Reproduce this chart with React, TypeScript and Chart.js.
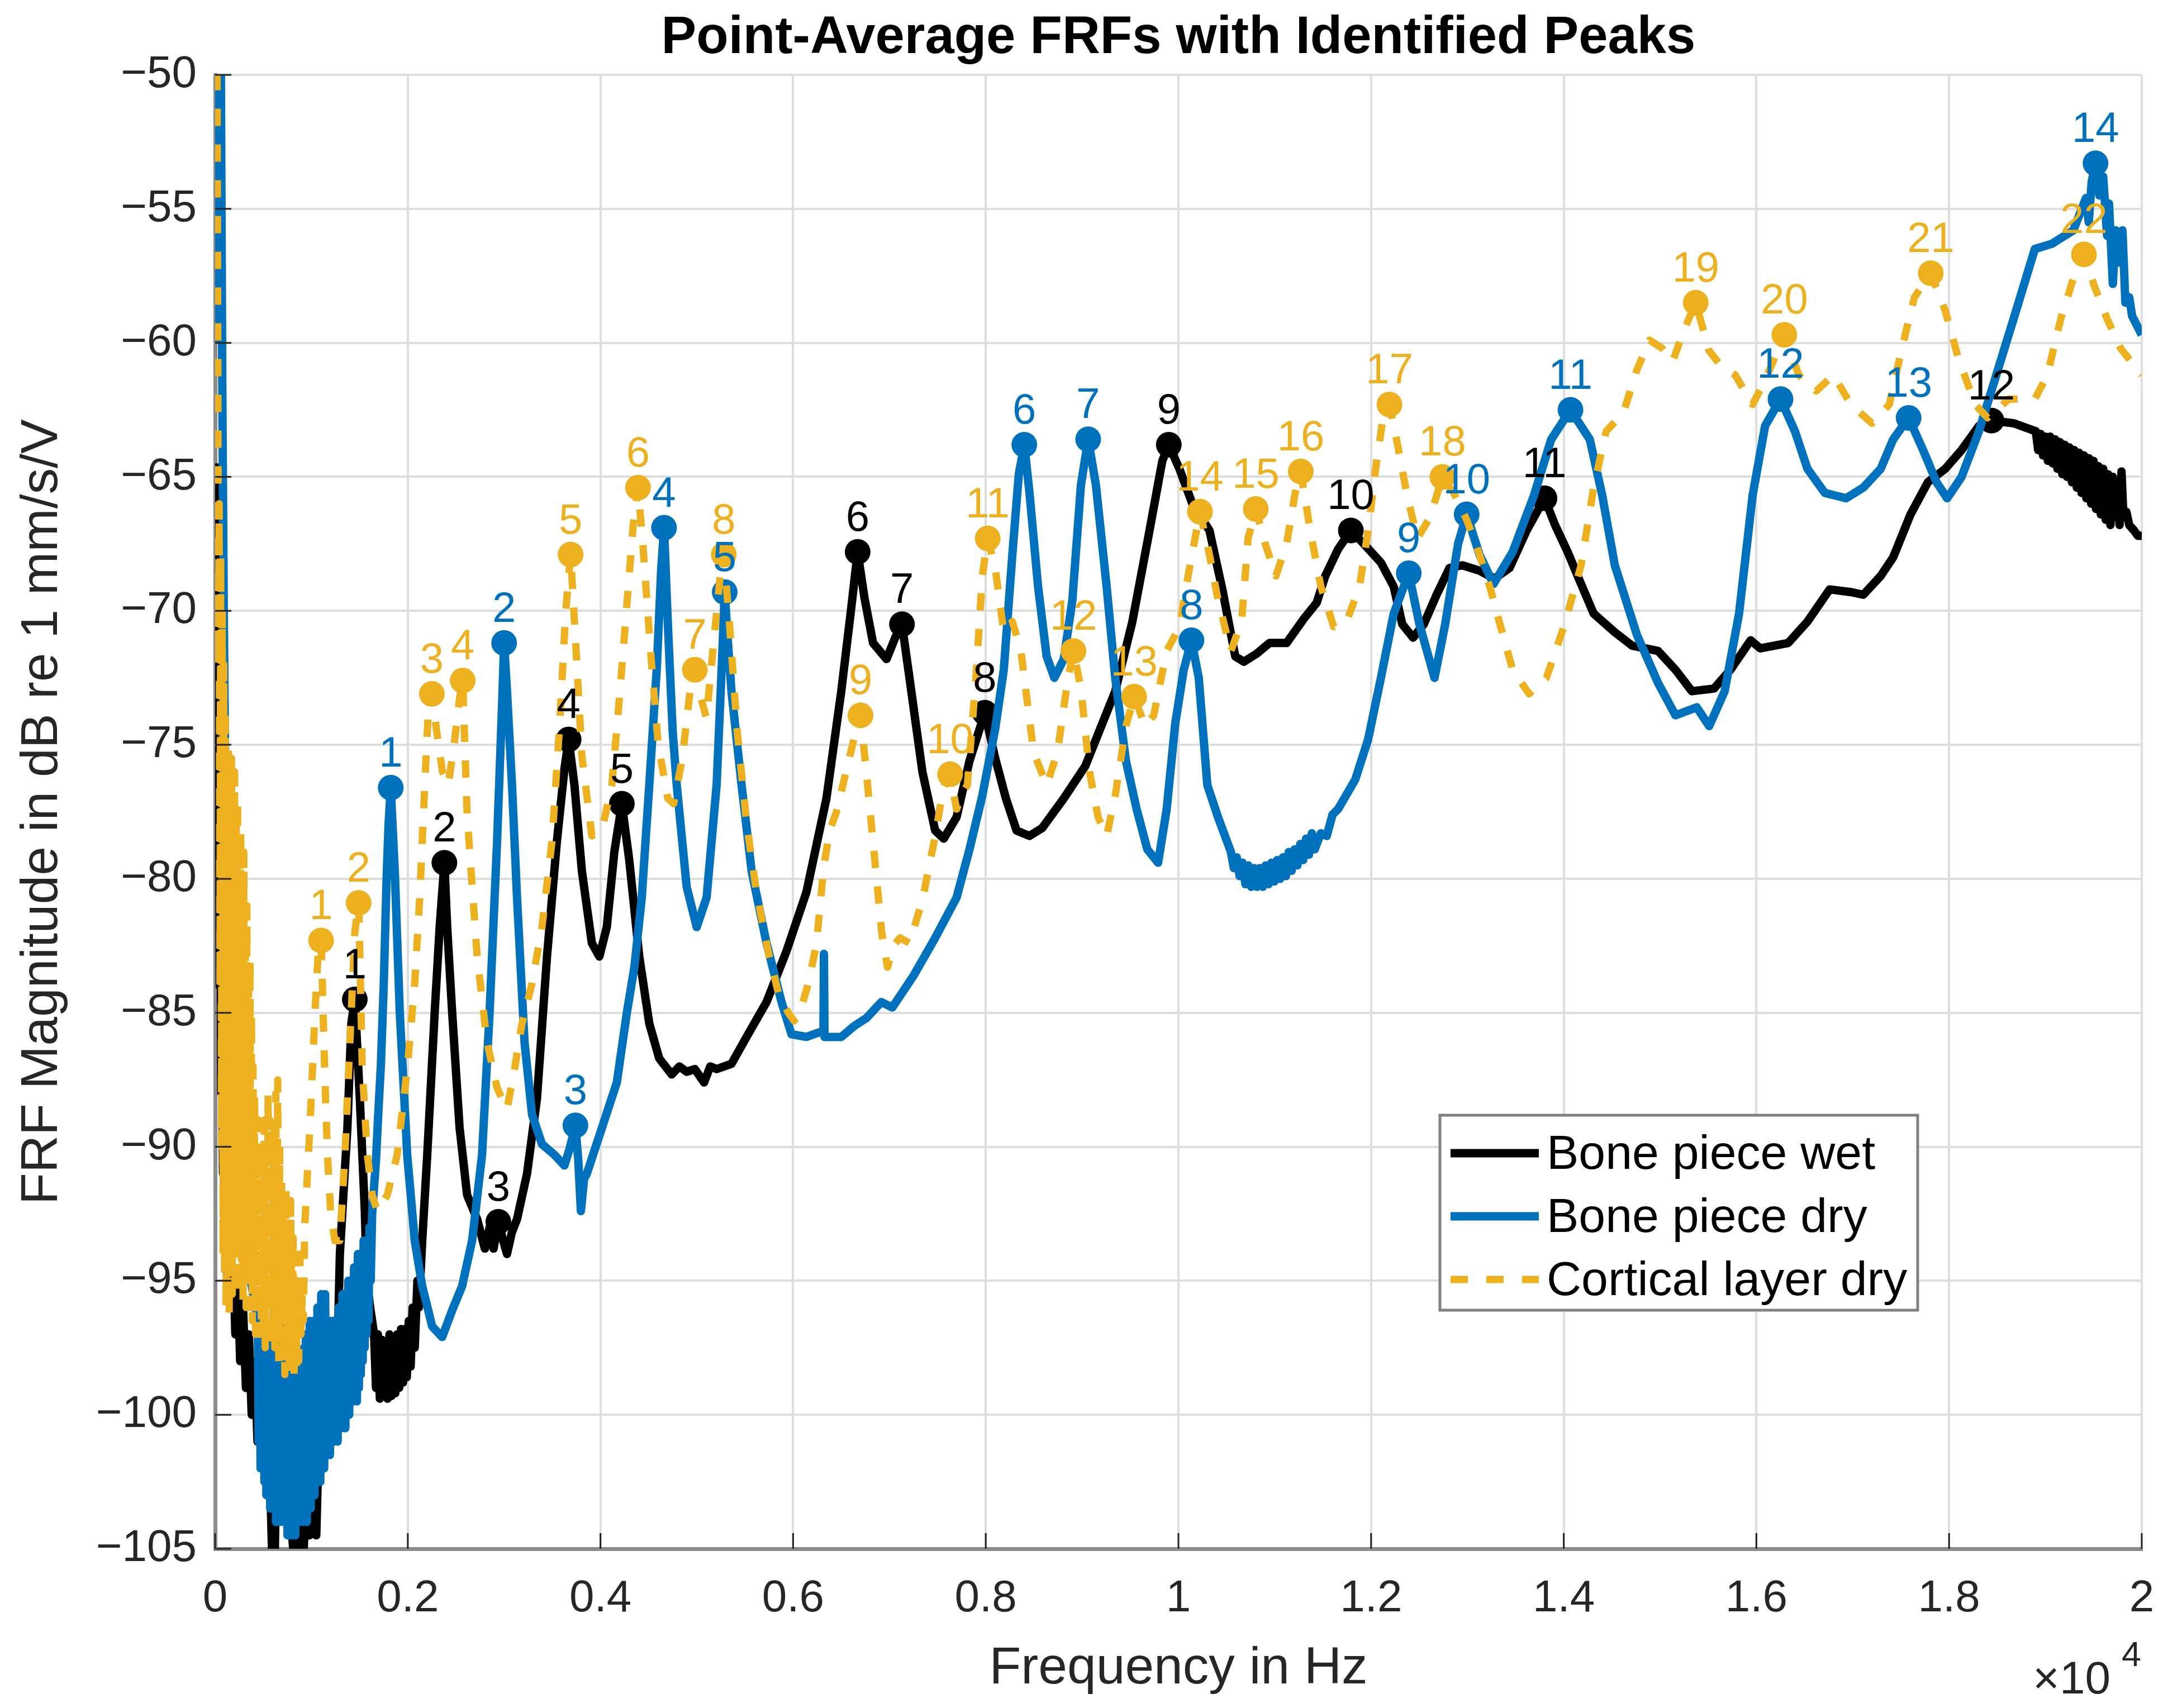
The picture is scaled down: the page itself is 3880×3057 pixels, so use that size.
import { useEffect, useRef } from 'react';
import { Chart, registerables } from 'chart.js';

Chart.register(...registerables);

const FONT = '"Liberation Sans", Arial, Helvetica, sans-serif';
const C_WET = '#000000';
const C_DRY = '#0072BD';
const C_CORT = '#EDB120';
const TICK_COLOR = '#262626';

// frequency [Hz], magnitude [dB]
const wetCurve: [number, number][] = [
  [0, -64.5], [10, -67], [18, -72], [24, -69], [32, -78], [40, -74], [48, -84], [56, -80], [64, -88], [72, -85],
  [82, -91], [92, -88], [104, -93], [118, -91], [132, -95], [150, -93], [170, -96], [190, -94.5], [210, -97], [235, -95],
  [260, -98], [290, -96], [320, -99], [350, -97], [380, -100], [410, -98], [440, -101], [470, -99], [500, -102], [530, -99.5],
  [560, -101], [590, -105], [605, -100], [620, -105], [640, -100.5], [670, -102], [700, -100], [730, -103], [760, -100.5],
  [790, -104], [810, -105], [830, -101], [860, -105], [890, -102], [920, -105], [950, -102.5], [980, -104.5], [1005, -102],
  [1014, -98], [1022, -102], [1050, -104.5], [1075, -101], [1100, -100], [1130, -98], [1170, -96.8], [1200, -99],
  [1230, -96.5], [1265, -98.5], [1295, -94], [1373, -89.3], [1414, -85.4], [1450, -84.5], [1502, -88.2], [1554, -92.4],
  [1575, -95], [1610, -96], [1650, -97], [1670, -99], [1690, -97], [1710, -99.4], [1730, -97.2], [1750, -99.2], [1770, -97.3],
  [1790, -99.4], [1810, -97], [1830, -99.3], [1850, -97.3], [1870, -99.2], [1890, -97], [1910, -99], [1930, -96.8],
  [1950, -98.8], [1970, -96.8], [1990, -98.6], [2010, -96.5], [2030, -98.2], [2050, -96], [2072, -97.5], [2100, -95],
  [2115, -96], [2150, -93.5], [2202, -90.3], [2279, -85], [2331, -81.8], [2380, -79.4],
  [2409, -81.8], [2461, -85], [2538, -89.3], [2616, -91.8], [2720, -92.7], [2800, -93.8], [2850, -93], [2890, -93.8],
  [2940, -92.8], [2990, -93.5], [3030, -94], [3080, -93.2], [3134, -92.7], [3238, -91], [3341, -88.2], [3445, -82.9],
  [3548, -78.6], [3626, -75.9], [3670, -74.8], [3730, -76.5], [3807, -79.7], [3911, -82.4], [3989, -82.9], [4066, -81.8],
  [4144, -79], [4222, -77.2], [4299, -79.3], [4403, -82.9], [4507, -85.4], [4610, -86.7], [4740, -87.3], [4820, -87],
  [4895, -87.2], [4980, -87.1], [5076, -87.6], [5140, -87], [5206, -87.1], [5361, -86.9], [5517, -85.9], [5724, -84.6],
  [5931, -82.7], [6138, -80.5], [6346, -77], [6500, -73], [6600, -70], [6670, -67.8], [6740, -69.5], [6830, -71.2],
  [6970, -71.8], [7060, -71], [7130, -70.5], [7208, -72.5], [7342, -76], [7475, -78.2], [7564, -78.5], [7697, -77.7],
  [7831, -75.6], [7990, -73.8], [8098, -75.5], [8209, -77], [8320, -78.2], [8454, -78.4], [8587, -78.1], [8810, -77],
  [9032, -75.8], [9166, -74.6], [9344, -73], [9522, -70.4], [9700, -67], [9833, -64.4], [9900, -63.8], [10010, -64.7],
  [10144, -66], [10322, -67], [10456, -69.2], [10590, -71.7], [10679, -71.9], [10812, -71.6], [10946, -71.2], [11123, -71.2],
  [11301, -70.3], [11435, -69.7], [11524, -68.7], [11657, -67.7], [11790, -67], [11924, -67.5], [12102, -68.2], [12235, -69.1],
  [12324, -70.5], [12436, -71], [12547, -70.5], [12680, -69.4], [12814, -68.4], [12947, -68.3], [13125, -68.5], [13281, -68.8],
  [13437, -68.4], [13615, -67], [13800, -65.8], [13910, -66.8], [14040, -67.8], [14180, -69], [14310, -70.1], [14530, -70.8],
  [14710, -71.3], [14980, -71.5], [15160, -72.2], [15330, -73], [15560, -72.9], [15730, -72.2], [15940, -71.1], [16040, -71.4],
  [16330, -71.2], [16530, -70.4], [16760, -69.2], [16980, -69.3], [17110, -69.4], [17290, -68.7], [17420, -68], [17600, -66.4],
  [17780, -65.2], [17960, -64.7], [18130, -64], [18310, -63.1], [18440, -62.9], [18670, -63], [18900, -63.3], [18925, -64],
  [18950, -63.4], [18975, -64.2], [19000, -63.5], [19025, -64.4], [19050, -63.5], [19075, -64.5], [19100, -63.6], [19125, -64.7],
  [19150, -63.7], [19175, -64.9], [19200, -63.8], [19225, -65], [19250, -63.9], [19275, -65.2], [19300, -64], [19325, -65.4],
  [19350, -64.1], [19375, -65.6], [19400, -64.2], [19425, -65.8], [19450, -64.3], [19475, -66], [19500, -64.4], [19525, -66.2],
  [19550, -64.6], [19575, -66.4], [19600, -64.7], [19625, -66.6], [19650, -64.9], [19675, -66.8], [19700, -65], [19725, -66.5],
  [19750, -65.2], [19770, -66.8], [19790, -64.8], [19810, -66.5], [19840, -66.3], [19870, -66.8], [19920, -67], [19960, -67.2],
  [20000, -67.2],
];

const dryCurve: [number, number][] = [
  [0, -60], [40, -50], [60, -50], [75, -62], [90, -70], [110, -78], [140, -85], [180, -89], [230, -92], [300, -94],
  [370, -95], [420, -96], [444, -96.8], [452, -101], [462, -97], [472, -102], [482, -97.5], [492, -101.5], [502, -98],
  [512, -102.5], [522, -97], [532, -103], [542, -98], [552, -102], [562, -97.5], [572, -103.5], [582, -98], [592, -102.5],
  [602, -96.8], [612, -103.5], [622, -97.5], [632, -104], [642, -98], [652, -103], [662, -97], [672, -104], [682, -96.5],
  [692, -103.5], [702, -97.5], [712, -104], [722, -98], [732, -103], [742, -98.5], [752, -104.5], [762, -99], [772, -104],
  [782, -98], [792, -104.5], [802, -99.5], [812, -104], [822, -98.5], [832, -104.5], [842, -99], [852, -103.5], [862, -98.5],
  [872, -104], [882, -99], [892, -103.5], [902, -98], [912, -104], [922, -97.5], [932, -103.5], [942, -97], [952, -104],
  [962, -97.5], [972, -103], [982, -96.5], [992, -103.5], [1002, -97], [1012, -102.5], [1022, -96.5], [1032, -103],
  [1042, -96.8], [1052, -102.5], [1062, -96], [1072, -102], [1082, -96.5], [1092, -102.5], [1102, -95.5], [1112, -101.5],
  [1122, -96], [1132, -102], [1142, -95.5], [1152, -101.5], [1162, -96.5], [1172, -101], [1182, -97], [1192, -101.5],
  [1202, -96.5], [1212, -100.5], [1222, -97], [1232, -101], [1242, -96.5], [1252, -100.5], [1262, -97], [1272, -101],
  [1282, -96], [1292, -100.5], [1302, -96], [1312, -100.5], [1322, -95.5], [1332, -100], [1342, -96], [1352, -100.5],
  [1362, -95.5], [1372, -100], [1382, -95], [1392, -100], [1402, -95], [1412, -99.5], [1422, -95], [1432, -99.5],
  [1442, -94.5], [1452, -99], [1462, -94.5], [1472, -99.5], [1482, -94], [1492, -99], [1502, -94], [1512, -98.5],
  [1522, -94], [1532, -98], [1542, -93.5], [1552, -97.5], [1562, -94], [1572, -97], [1582, -93.5], [1592, -96.5],
  [1602, -93], [1615, -95], [1630, -92.5], [1650, -91.5], [1670, -90.5], [1690, -89], [1720, -87], [1750, -84],
  [1780, -80], [1800, -78], [1823, -76.6], [1865, -79.7], [1917, -85], [1994, -90.3], [2072, -93.5], [2150, -95.2],
  [2253, -96.7], [2357, -97.1], [2461, -96.1], [2564, -95.2], [2668, -93.5], [2771, -90.3], [2849, -85], [2927, -78.6],
  [2979, -73.5], [3000, -71.2], [3030, -73], [3082, -76.5], [3134, -80.7], [3212, -86.1], [3290, -88.8], [3393, -89.9],
  [3522, -90.3], [3626, -90.7], [3678, -90.1], [3740, -89.2], [3770, -90.5], [3797, -92.4], [3830, -91.2], [3859, -91],
  [4015, -89.3], [4170, -87.6], [4274, -85], [4352, -83.3], [4429, -80.7], [4507, -76.5], [4584, -72.2], [4630, -68.5],
  [4660, -66.9], [4700, -70.5], [4750, -74.5], [4792, -76.5], [4895, -80.3], [4999, -81.8], [5102, -80.7], [5206, -76.5],
  [5258, -72.2], [5290, -69.3], [5320, -71], [5360, -73], [5465, -76.5], [5569, -79.7], [5724, -82.4], [5880, -84.6],
  [5983, -85.8], [6138, -85.9], [6294, -85.7], [6315, -85.8], [6320, -82.8], [6326, -85.9], [6501, -85.9], [6631, -85.5],
  [6760, -85.2], [6915, -84.6], [7030, -84.8], [7253, -83.6], [7475, -82.2], [7697, -80.7], [7831, -78.9], [7964, -76.9],
  [8098, -74.4], [8187, -72.2], [8276, -67.9], [8343, -64.9], [8400, -63.8], [8454, -65.6], [8543, -69.1], [8632, -71.7],
  [8712, -72.5], [8810, -71.8], [8899, -69.6], [8988, -65.3], [9063, -63.6], [9143, -65.3], [9255, -69.1], [9344, -72.5],
  [9455, -75.6], [9566, -77.4], [9677, -78.9], [9789, -79.4], [9878, -77.4], [9967, -74.2], [10055, -72.2], [10135, -71.1],
  [10211, -72.5], [10300, -76.5], [10411, -77.7], [10545, -79], [10575, -79.6], [10605, -79.2], [10635, -79.9],
  [10665, -79.4], [10695, -80.2], [10725, -79.5], [10755, -80.3], [10785, -79.6], [10815, -80.3], [10845, -79.6],
  [10875, -80.3], [10905, -79.5], [10935, -80.2], [10965, -79.4], [10995, -80.1], [11025, -79.3], [11055, -80],
  [11085, -79.2], [11115, -79.9], [11145, -79], [11175, -79.7], [11205, -78.9], [11235, -79.5], [11265, -78.7],
  [11295, -79.3], [11325, -78.5], [11355, -79.1], [11385, -78.3], [11415, -78.9], [11479, -78.3], [11540, -78.4],
  [11600, -77.6], [11657, -77.4], [11835, -76.3], [11969, -74.8], [12102, -72.5], [12235, -70.1], [12391, -68.6],
  [12502, -70.5], [12658, -72.5], [12769, -70.5], [12903, -67.5], [12992, -66.4], [13125, -67.9], [13270, -69],
  [13470, -67.8], [13690, -65.7], [13870, -63.6], [14070, -62.5], [14270, -63.6], [14400, -65.7], [14530, -68.3],
  [14760, -70.9], [14980, -72.7], [15160, -73.9], [15380, -73.6], [15510, -74.3], [15670, -73], [15820, -70.1],
  [15960, -65.7], [16090, -63.1], [16250, -62.1], [16400, -63.3], [16530, -64.7], [16710, -65.6], [16930, -65.8],
  [17110, -65.4], [17290, -64.7], [17420, -63.6], [17580, -62.8], [17730, -64], [17870, -65.2], [17980, -65.8],
  [18130, -65], [18310, -63.3], [18490, -61.2], [18670, -59.1], [18890, -56.5], [19070, -56.3], [19290, -55.8],
  [19420, -54.6], [19450, -55.5], [19480, -54], [19520, -53.3], [19560, -54.5], [19600, -53.8], [19640, -56],
  [19660, -54.8], [19700, -57.8], [19730, -55.8], [19760, -57], [19800, -55.8], [19830, -58.5], [19870, -58.3],
  [19900, -59], [20000, -59.7],
];

const corticalCurve: [number, number][] = [
  [0, -50], [20, -50], [28, -60], [35, -72], [42, -66], [50, -84], [58, -68], [66, -90], [74, -70], [82, -94], [90, -72],
  [98, -95], [106, -74], [114, -96], [122, -75], [130, -95], [138, -75], [146, -96.5], [154, -76], [162, -94], [170, -75.5],
  [178, -95.5], [186, -77], [194, -93], [202, -76], [210, -95], [218, -78], [226, -94], [234, -77], [242, -95.5], [250, -79],
  [258, -93], [266, -78], [274, -95], [282, -80], [290, -96], [298, -79], [306, -94], [314, -82], [322, -96], [330, -81],
  [338, -95], [346, -84], [354, -96], [362, -83], [370, -94.5], [378, -85], [386, -96.5], [394, -87], [402, -95], [410, -88],
  [420, -97], [430, -90], [440, -96], [450, -89], [460, -97], [470, -91], [480, -96.5], [490, -90], [500, -97], [510, -89],
  [520, -97.5], [530, -90], [540, -96], [550, -88], [560, -97], [570, -89], [580, -97.5], [590, -90], [600, -96.5], [610, -89],
  [620, -97.5], [630, -88], [640, -97], [650, -87.5], [660, -98], [670, -90], [680, -97], [690, -91], [700, -98], [712, -92],
  [724, -98.5], [736, -91.5], [748, -97.5], [760, -93], [772, -98.5], [784, -92], [796, -98], [808, -93], [820, -98.6],
  [832, -94], [844, -98.2], [856, -95], [868, -98], [880, -94], [892, -97], [904, -95.5], [916, -96.5], [930, -93],
  [945, -92], [960, -90.8], [984, -89.3], [1036, -85], [1072, -82.6], [1100, -82.3], [1114, -84], [1140, -87.5],
  [1166, -90.3], [1200, -92.5], [1243, -93.5], [1295, -93.5], [1347, -90.3], [1399, -86.1], [1450, -82], [1490, -80.9],
  [1528, -87.1], [1580, -90.3], [1630, -91.8], [1684, -92.4], [1787, -91.8], [1890, -90.3], [1994, -87.1], [2072, -83.9],
  [2124, -80.7], [2176, -76.5], [2212, -73.8], [2250, -73.1], [2300, -74.5], [2360, -76], [2420, -76.5], [2480, -75],
  [2540, -73.2], [2570, -72.6], [2616, -77.6], [2720, -82.9], [2823, -86.1], [2927, -87.8], [3030, -88.6], [3108, -87.1],
  [3186, -85.4], [3290, -83.9], [3393, -81.8], [3497, -78.6], [3574, -74.4], [3640, -70], [3690, -67.9], [3740, -71],
  [3807, -75.4], [3911, -78.4], [4015, -78.2], [4118, -76.5], [4196, -73.3], [4280, -69.5], [4340, -66.8], [4390, -65.4],
  [4440, -67.5], [4520, -71.5], [4600, -75], [4700, -77], [4760, -77.2], [4850, -75.5], [4930, -73], [4980, -72.2],
  [5040, -73.2], [5100, -74], [5180, -71], [5240, -68.8], [5280, -67.9], [5340, -70.5], [5420, -74.5], [5520, -78],
  [5620, -80.5], [5740, -82.7], [5850, -84.3], [5950, -85], [6010, -85.3], [6070, -85], [6150, -84], [6240, -82.5],
  [6320, -79.5], [6380, -78.2], [6450, -77.5], [6550, -76], [6630, -74.8], [6700, -73.9], [6760, -76], [6840, -79],
  [6920, -82], [6980, -83.3], [7040, -82.5], [7110, -82.2], [7208, -82.4], [7342, -80.8], [7475, -78.4], [7560, -76.6],
  [7630, -76.1], [7697, -77.4], [7760, -76.8], [7809, -76.5], [7898, -72.5], [7964, -68.7], [8020, -67.3], [8098, -68.4],
  [8187, -70.8], [8276, -70.4], [8365, -71.5], [8498, -75.3], [8632, -76.5], [8743, -75.3], [8854, -72.5], [8910, -71.5],
  [8988, -72.9], [9077, -76], [9166, -77.7], [9255, -78.4], [9344, -76.9], [9455, -74.3], [9540, -73.2], [9655, -74.3],
  [9744, -73.9], [9878, -71.5], [10011, -70.6], [10100, -68.7], [10224, -66.3], [10322, -67.9], [10411, -69.6],
  [10545, -71.5], [10656, -70.4], [10723, -67.3], [10803, -66.2], [10901, -67.5], [11012, -68.7], [11123, -67.5],
  [11212, -65.6], [11270, -64.8], [11368, -67], [11479, -69.1], [11613, -70.6], [11746, -70.4], [11880, -69.1],
  [11969, -67], [12058, -64.4], [12124, -62.8], [12190, -62.3], [12280, -63.9], [12369, -65.6], [12480, -67.3],
  [12613, -66.5], [12740, -65], [12858, -65.6], [12992, -66.6], [13125, -67.9], [13240, -69.2], [13330, -70.4],
  [13470, -72.2], [13640, -73.1], [13820, -72.5], [14000, -70.6], [14180, -68.3], [14310, -65.4], [14440, -63.3],
  [14620, -62.6], [14760, -61], [14890, -59.9], [15020, -60.2], [15130, -60.7], [15240, -59.6], [15370, -58.5],
  [15510, -60.3], [15640, -60.9], [15780, -61.2], [15960, -62.3], [16090, -61.4], [16290, -59.7], [16440, -61.2],
  [16620, -61.8], [16800, -61.2], [16980, -62.3], [17200, -63], [17380, -62.3], [17510, -60.2], [17640, -58.3],
  [17810, -57.4], [17960, -58.8], [18090, -60.5], [18270, -62.3], [18400, -62.8], [18620, -62.1], [18890, -62.1],
  [19020, -61.2], [19160, -59.1], [19290, -57.6], [19400, -56.7], [19510, -57.9], [19640, -59.1], [19780, -60.2],
  [20000, -61.2],
];

// identified peaks (label = index + 1)
const wetPeakHz = [1450, 2380, 2940, 3670, 4222, 6670, 7130, 7990, 9900, 11790, 13800, 18440];
const wetPeakDb = [-84.5, -79.4, -92.8, -74.8, -77.2, -67.8, -70.5, -73.8, -63.8, -67.0, -65.8, -62.9];
const dryPeakHz = [1823, 3000, 3740, 4660, 5290, 8400, 9063, 10135, 12391, 12992, 14070, 16250, 17580, 19520];
const dryPeakDb = [-76.6, -71.2, -89.2, -66.9, -69.3, -63.8, -63.6, -71.1, -68.6, -66.4, -62.5, -62.1, -62.8, -53.3];
const cortPeakHz = [1100, 1490, 2250, 2570, 3690, 4390, 4980, 5280, 6700, 7630, 8020, 8910, 9540, 10224, 10803, 11270,
  12190, 12740, 15370, 16290, 17810, 19400];
const cortPeakDb = [-82.3, -80.9, -73.1, -72.6, -67.9, -65.4, -72.2, -67.9, -73.9, -76.1, -67.3, -71.5, -73.2, -66.3,
  -66.2, -64.8, -62.3, -65.0, -58.5, -59.7, -57.4, -56.7];

const legendLabels = ['Bone piece wet', 'Bone piece dry', 'Cortical layer dry'];
const yTicks = [-105, -100, -95, -90, -85, -80, -75, -70, -65, -60, -55, -50];
const xTicks = [0, 2000, 4000, 6000, 8000, 10000, 12000, 14000, 16000, 18000, 20000];

const DASH = [31, 33];
const SOLID_W = 15;
const DASH_W = 13;

const peakSets = [
  { hz: wetPeakHz, db: wetPeakDb, color: C_WET },
  { hz: dryPeakHz, db: dryPeakDb, color: C_DRY },
  { hz: cortPeakHz, db: cortPeakDb, color: C_CORT },
];

const toXY = (hz: number[], db: number[]) => hz.map((f, i) => ({ x: f, y: db[i] }));
const curveXY = (c: [number, number][]) => c.map(([f, d]) => ({ x: f, y: d }));

const overlay = {
  id: 'frfOverlay',
  afterDatasetsDraw(chart: any) {
    const { ctx, scales } = chart;
    const { x, y } = scales;
    ctx.save();
    ctx.font = `76px ${FONT}`;
    ctx.textAlign = 'center';
    ctx.textBaseline = 'alphabetic';
    peakSets.forEach((set) => {
      ctx.fillStyle = set.color;
      set.hz.forEach((f, i) => {
        ctx.fillText(String(i + 1), x.getPixelForValue(f), y.getPixelForValue(set.db[i]) - 38);
      });
    });
    ctx.restore();
  },
  afterDraw(chart: any) {
    const { ctx, chartArea: a, scales } = chart;
    const { x, y } = scales;
    ctx.save();

    // inward tick marks
    ctx.strokeStyle = TICK_COLOR;
    ctx.lineWidth = 3;
    ctx.beginPath();
    yTicks.forEach((v) => {
      const py = y.getPixelForValue(v);
      ctx.moveTo(a.left, py);
      ctx.lineTo(a.left + 29, py);
    });
    xTicks.forEach((v) => {
      const px = x.getPixelForValue(v);
      ctx.moveTo(px, a.bottom);
      ctx.lineTo(px, a.bottom - 28);
    });
    ctx.stroke();

    // title
    const cx = (a.left + a.right) / 2;
    ctx.fillStyle = '#000';
    ctx.font = `bold 94px ${FONT}`;
    ctx.textAlign = 'center';
    ctx.textBaseline = 'alphabetic';
    ctx.fillText('Point-Average FRFs with Identified Peaks', cx, 95);

    // axis titles
    ctx.fillStyle = TICK_COLOR;
    ctx.font = `93px ${FONT}`;
    ctx.fillText('Frequency in Hz', cx, 3013);
    ctx.save();
    ctx.translate(102, (a.top + a.bottom) / 2);
    ctx.rotate(-Math.PI / 2);
    ctx.fillText('FRF Magnitude in dB re 1 mm/s/V', 0, 0);
    ctx.restore();

    // exponent
    ctx.textAlign = 'left';
    ctx.font = `82px ${FONT}`;
    ctx.fillText('\u00d710', 3638, 3031);
    ctx.font = `63px ${FONT}`;
    ctx.fillText('4', 3797, 2982);

    // legend
    const lx = 2577, ly = 1996, lw = 855, lh = 349;
    ctx.fillStyle = '#fff';
    ctx.fillRect(lx, ly, lw, lh);
    ctx.strokeStyle = '#808080';
    ctx.lineWidth = 5;
    ctx.strokeRect(lx, ly, lw, lh);
    const colors = [C_WET, C_DRY, C_CORT];
    const rows = [2064, 2177, 2290];
    legendLabels.forEach((label, i) => {
      ctx.beginPath();
      ctx.strokeStyle = colors[i];
      ctx.lineWidth = i === 2 ? DASH_W : SOLID_W;
      ctx.setLineDash(i === 2 ? DASH : []);
      ctx.moveTo(2596, rows[i]);
      ctx.lineTo(2754, rows[i]);
      ctx.stroke();
      ctx.setLineDash([]);
      ctx.fillStyle = '#000';
      ctx.font = `86px ${FONT}`;
      ctx.textAlign = 'left';
      ctx.textBaseline = 'middle';
      ctx.fillText(label, 2768, rows[i] + 4);
    });
    ctx.restore();
  },
};

export default function App() {
  const canvasRef = useRef<HTMLCanvasElement>(null);

  useEffect(() => {
    document.body.style.margin = '0';
    if (!canvasRef.current) return;
    const line = (c: [number, number][], color: string, order: number, dash: number[] = []) => ({
      data: curveXY(c),
      borderColor: color,
      borderWidth: dash.length ? DASH_W : SOLID_W,
      borderDash: dash,
      borderJoinStyle: 'round' as const,
      pointRadius: 0,
      tension: 0,
      fill: false,
      order,
    });
    const marks = (hz: number[], db: number[], color: string, order: number) => ({
      data: toXY(hz, db),
      showLine: false,
      pointRadius: 23,
      pointBorderWidth: 0,
      pointBackgroundColor: color,
      borderColor: color,
      order,
    });
    const chart = new Chart(canvasRef.current, {
      type: 'line',
      data: {
        datasets: [
          marks(cortPeakHz, cortPeakDb, C_CORT, 0),
          line(corticalCurve, C_CORT, 1, DASH),
          marks(dryPeakHz, dryPeakDb, C_DRY, 2),
          line(dryCurve, C_DRY, 3),
          marks(wetPeakHz, wetPeakDb, C_WET, 4),
          line(wetCurve, C_WET, 5),
        ] as any,
      },
      options: {
        animation: false,
        responsive: true,
        maintainAspectRatio: false,
        events: [],
        layout: { padding: { top: 134, right: 47, bottom: 0, left: 0 } },
        plugins: { legend: { display: false }, title: { display: false }, tooltip: { enabled: false } },
        scales: {
          x: {
            type: 'linear',
            min: 0,
            max: 20000,
            afterBuildTicks: (s: any) => { s.ticks = xTicks.map((v) => ({ value: v })); },
            afterFit: (s: any) => { s.height = 285; s.paddingLeft = 0; s.paddingRight = 0; },
            grid: { color: '#dedede', lineWidth: 4, drawTicks: false },
            border: { display: true, color: '#8c8c8c', width: 7 },
            ticks: {
              autoSkip: false,
              maxRotation: 0,
              padding: 42,
              color: TICK_COLOR,
              font: { size: 80, family: FONT },
              callback: (v: any) => String(Number((Number(v) / 10000).toFixed(1))),
            },
          },
          y: {
            type: 'linear',
            min: -105,
            max: -50,
            afterBuildTicks: (s: any) => { s.ticks = yTicks.map((v) => ({ value: v })); },
            afterFit: (s: any) => { s.width = 385; s.paddingTop = 0; s.paddingBottom = 0; },
            grid: { color: '#dedede', lineWidth: 4, drawTicks: false },
            border: { display: true, color: '#8c8c8c', width: 7 },
            ticks: {
              autoSkip: false,
              padding: 33,
              color: TICK_COLOR,
              font: { size: 80, family: FONT },
              callback: (v: any) => (Number(v) < 0 ? '\u2212' + Math.abs(Number(v)) : String(v)),
            },
          },
        },
      },
      plugins: [overlay],
    });
    return () => { chart.destroy(); };
  }, []);

  return (
    <div style={{ position: 'relative', width: 3880, height: 3057, background: '#fff' }}>
      <canvas ref={canvasRef} />
    </div>
  );
}
